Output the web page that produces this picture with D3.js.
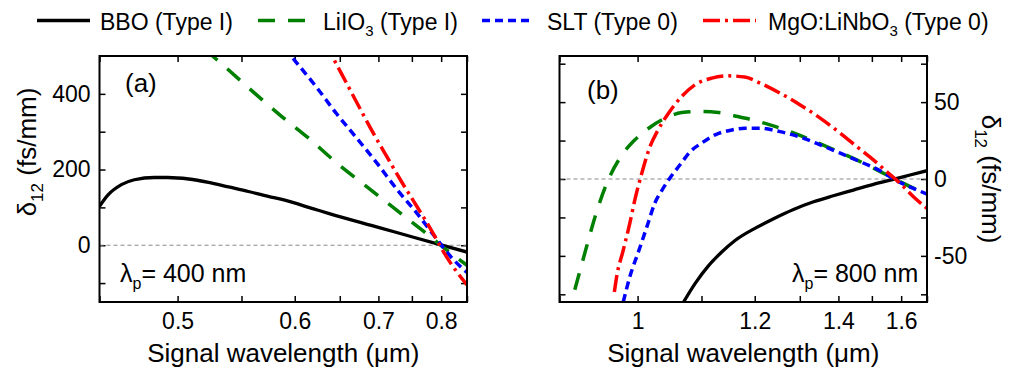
<!DOCTYPE html>
<meta charset="utf-8">
<style>
body { margin: 0; background: #fff; }
text { font-family: 'Liberation Sans', Arial, sans-serif; fill: #000; }
.frame { fill: none; stroke: #000; stroke-width: 2px; }
.tick line { stroke: #000; stroke-width: 1.5px; }
.zero { stroke: #888; stroke-width: 1px; stroke-dasharray: 4,3; }
</style>
<svg width="1009" height="372"></svg>
<script src="https://d3js.org/d3.v7.min.js"></script>
<script>
// series: [signal wavelength (um), delta12 (fs/mm)]
// panel (a), pump 400 nm
var bboA = [[0.45,103],[0.455,133],[0.463,160],[0.471,173],[0.484,179],[0.493,179],[0.508,175],[0.523,166],
            [0.539,154],[0.556,142],[0.574,129],[0.59,119],[0.62,96],[0.6385,83],[0.7024,46],[0.7526,21],[0.798,1.5],[0.85,-18]];
var lio3A = [[0.52,518],[0.5255,502],[0.587,340],[0.616,280],[0.646,218],[0.684,155],[0.724,96],[0.769,37],[0.817,-20],[0.85,-53]];
var sltA = [[0.59,520],[0.5985,493],[0.623,418],[0.646,348],[0.671,283],[0.698,217],[0.727,147],[0.758,85],[0.786,28],[0.823,-38],[0.85,-72]];
var mgoA = [[0.632,540],[0.6405,502],[0.6585,427],[0.675,362],[0.693,296],[0.712,234],[0.732,173],[0.753,116],[0.775,59],[0.817,-46],[0.85,-105]];

// panel (b), pump 800 nm
var bboB = [[1.07,-80],[1.089,-68],[1.112,-56.5],[1.136,-47.5],[1.161,-40],[1.204,-31.5],[1.24,-25.8],[1.285,-19.8],[1.334,-14.8],
            [1.386,-10.9],[1.443,-7.2],[1.505,-3.5],[1.572,-0.2],[1.633,2.6],[1.7,5.4]];
var lio3B = [[0.918,-72],[0.930,-48.5],[0.943,-24.5],[0.958,-2.8],[0.980,16.8],[0.996,25.4],[1.016,33],[1.041,39.6],[1.067,43.2],
             [1.095,43.9],[1.13,43.2],[1.161,41],[1.197,38.3],[1.232,35.2],[1.277,30.8],[1.368,21.1],[1.453,12.4],[1.572,0.5],[1.7,-10.4]];
var sltB = [[0.980,-80],[0.989,-63.7],[1.002,-46.3],[1.015,-28.9],[1.025,-15.8],[1.036,-7.2],[1.048,0.5],[1.064,9.1],[1.081,17.8],
            [1.100,23.3],[1.124,28.7],[1.155,31.9],[1.18,33],[1.211,33],[1.254,30.8],[1.301,27.2],[1.351,22.2],[1.405,16.8],
            [1.463,11.3],[1.527,5.4],[1.584,-1.1],[1.646,-6.1],[1.7,-9.8]];
var mgoB = [[0.968,-73.5],[0.971,-63.7],[0.980,-46.3],[0.989,-28.9],[0.996,-13.7],[1.006,3.7],[1.018,21.1],[1.030,31.9],[1.046,42.8],
            [1.067,53.7],[1.089,61.3],[1.118,65.6],[1.148,67.1],[1.18,66.3],[1.211,62.4],[1.254,55.9],[1.301,48.2],[1.351,39.6],
            [1.405,29.8],[1.453,21.1],[1.505,12.4],[1.549,4.8],[1.596,-2.8],[1.646,-11.5],[1.7,-19.1]];

// axis ticks
var xMajorA = [0.5, 0.6, 0.7, 0.8], xMinorA = [0.45, 0.55, 0.65, 0.75, 0.85];
var xMajorB = [1, 1.2, 1.4, 1.6], xMinorB = [0.9, 1.1, 1.3, 1.5, 1.7];
var yMajorA = [0, 200, 400], yMinorA = [-100, 100, 300];
var yMajorB = [-50, 0, 50], yMinorB = [-75, -25, 25, 75];

var materials = ["BBO", "LiIO3", "SLT", "MgO:LiNbO3"];
var legendTypes = ["(Type I)", "(Type I)", "(Type 0)", "(Type 0)"];

var styles = [
    { color: "#000", dash: null, width: 3.3 },
    { color: "#008000", dash: "17,13", width: 3.5 },
    { color: "#0000ff", dash: "8,5", width: 3.5 },
    { color: "#ff0000", dash: "17,5,3,5", width: 3.5 }
];

var svg = d3.select("svg");

var panels = [
    { name: "a", left: 99.5, right: 467, wl: [0.45, 0.85], yDom: [-150, 500], series: [bboA, lio3A, sltA, mgoA],
      xMajor: xMajorA, xMinor: xMinorA, yMajor: yMajorA, yMinor: yMinorA, side: "left", pump: "400",
      labelX: 125, labelY: 92, pumpX: 120 },
    { name: "b", left: 559.5, right: 927, wl: [0.9, 1.7], yDom: [-80, 80], series: [bboB, lio3B, sltB, mgoB],
      xMajor: xMajorB, xMinor: xMinorB, yMajor: yMajorB, yMinor: yMinorB, side: "right", pump: "800",
      labelX: 587, labelY: 99, pumpX: 792 }
];
var plotTop = 56, plotBottom = 302;

panels.forEach(function(p) {
    var g = svg.append("g");
    // x is linear in 1/lambda (frequency), lambda increasing to the right
    var x = d3.scaleLinear().domain([1 / p.wl[0], 1 / p.wl[1]]).range([p.left, p.right]);
    var y = d3.scaleLinear().domain(p.yDom).range([plotBottom, plotTop]);

    var xTicks = p.xMajor.concat(p.xMinor).map(function(d) { return 1 / d; });
    var isMajorX = function(u) { return p.xMajor.some(function(m) { return Math.abs(1 / m - u) < 1e-9; }); };
    var fmtX = function(u) { return isMajorX(u) ? String(+(1 / u).toFixed(2)) : ""; };

    var yTicks = p.yMajor.concat(p.yMinor);
    var fmtY = function(v) { return p.yMajor.indexOf(v) >= 0 ? String(v) : ""; };

    var axB = g.append("g").attr("transform", "translate(0," + plotBottom + ")")
        .call(d3.axisBottom(x).tickValues(xTicks).tickSize(-6).tickPadding(11).tickFormat(fmtX));
    var axT = g.append("g").attr("transform", "translate(0," + plotTop + ")")
        .call(d3.axisTop(x).tickValues(xTicks).tickSize(-6).tickFormat(""));
    var axL = g.append("g").attr("transform", "translate(" + p.left + ",0)")
        .call(d3.axisLeft(y).tickValues(yTicks).tickSize(-6).tickPadding(9)
            .tickFormat(p.side === "left" ? fmtY : ""));
    var axR = g.append("g").attr("transform", "translate(" + p.right + ",0)")
        .call(d3.axisRight(y).tickValues(yTicks).tickSize(-6).tickPadding(7)
            .tickFormat(p.side === "right" ? fmtY : ""));
    [axB, axT, axL, axR].forEach(function(a) {
        a.select(".domain").remove();
        a.selectAll("text").style("font-size", "23px").attr("fill", "#000")
            .style("font-family", "'Liberation Sans', Arial, sans-serif");
    });

    // zero reference
    g.append("line").attr("class", "zero")
        .attr("x1", p.left).attr("x2", p.right)
        .attr("y1", y(0)).attr("y2", y(0));

    var clipId = "clip-" + p.name;
    g.append("clipPath").attr("id", clipId).append("rect")
        .attr("x", p.left).attr("y", plotTop)
        .attr("width", p.right - p.left).attr("height", plotBottom - plotTop);

    var line = d3.line()
        .x(function(d) { return x(1 / d[0]); })
        .y(function(d) { return y(d[1]); })
        .curve(d3.curveMonotoneX);

    g.append("g").attr("clip-path", "url(#" + clipId + ")")
        .selectAll("path").data(p.series).enter().append("path")
        .attr("d", line)
        .attr("fill", "none")
        .attr("stroke", function(d, i) { return styles[i].color; })
        .attr("stroke-width", function(d, i) { return styles[i].width; })
        .attr("stroke-dasharray", function(d, i) { return styles[i].dash; });

    g.append("rect").attr("class", "frame")
        .attr("x", p.left).attr("y", plotTop)
        .attr("width", p.right - p.left).attr("height", plotBottom - plotTop);

    // panel letter
    g.append("text").attr("x", p.labelX).attr("y", p.labelY)
        .style("font-size", "26px").text("(" + p.name + ")");

    // pump wavelength
    var pt = g.append("text").attr("x", p.pumpX).attr("y", 282).style("font-size", "25px");
    pt.append("tspan").text("\u03bb");
    pt.append("tspan").attr("dy", 7).style("font-size", "16px").text("p");
    pt.append("tspan").attr("dy", -7).text("= " + p.pump + " nm");

    // x title
    g.append("text").attr("x", (p.left + p.right) / 2).attr("y", 362)
        .attr("text-anchor", "middle").style("font-size", "26px")
        .text("Signal wavelength (\u03bcm)");

    // y title
    var yt;
    if (p.side === "left") {
        yt = g.append("text").attr("transform", "translate(36,152) rotate(-90)");
    } else {
        yt = g.append("text").attr("transform", "translate(982,179) rotate(90)");
    }
    yt.attr("text-anchor", "middle").style("font-size", "26px");
    yt.append("tspan").text("\u03b4");
    yt.append("tspan").attr("dy", 7).style("font-size", "17px").text("12");
    yt.append("tspan").attr("dy", -7).text(" (fs/mm)");
});

// legend
var legendPos = [
    { x1: 37, x2: 90, tx: 100 },
    { x1: 258, x2: 312, tx: 323 },
    { x1: 482, x2: 534, tx: 547 },
    { x1: 703, x2: 756, tx: 768 }
];
var lg = svg.append("g");
materials.forEach(function(m, i) {
    var lp = legendPos[i];
    lg.append("line").attr("x1", lp.x1).attr("x2", lp.x2).attr("y1", 20.5).attr("y2", 20.5)
        .attr("stroke", styles[i].color).attr("stroke-width", styles[i].width)
        .attr("stroke-dasharray", styles[i].dash);
    var t = lg.append("text").attr("x", lp.tx).attr("y", 29.5).style("font-size", "23px");
    var sub = m.match(/^(.*?)(\d)$/);
    if (sub) {
        t.append("tspan").text(sub[1]);
        t.append("tspan").attr("dy", 6).style("font-size", "15px").text(sub[2]);
        t.append("tspan").attr("dy", -6).text(" " + legendTypes[i]);
    } else {
        t.text(m + " " + legendTypes[i]);
    }
});
</script>
